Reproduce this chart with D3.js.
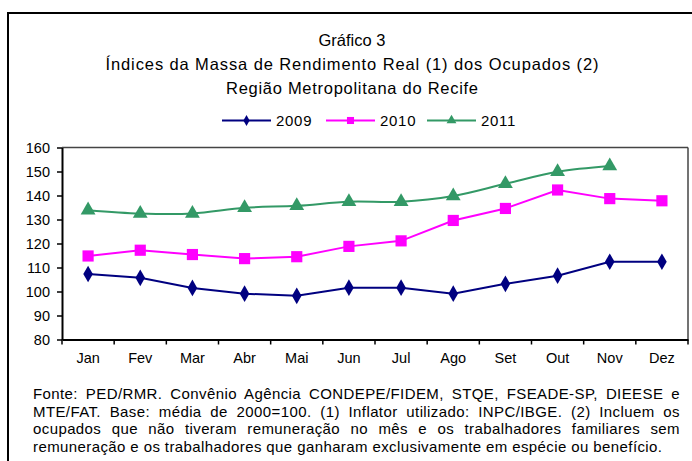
<!DOCTYPE html>
<html><head><meta charset="utf-8">
<script src="https://cdn.jsdelivr.net/npm/d3@7"></script>
<style>
html,body{margin:0;padding:0;background:#fff;}
#wrap{position:relative;width:692px;height:461px;overflow:hidden;font-family:"Liberation Sans",Arial,sans-serif;}
svg{position:absolute;left:0;top:0;}
.fl{position:absolute;left:33px;width:647px;font-size:15px;letter-spacing:0.4px;white-space:nowrap;color:#000;line-height:17px;}
.just{text-align:justify;text-align-last:justify;white-space:normal;}
</style></head>
<body><div id="wrap"></div>
<script>
const months = ["Jan","Fev","Mar","Abr","Mai","Jun","Jul","Ago","Set","Out","Nov","Dez"];
const s2009 = [107.3,105.7,101.5,99.1,98.2,101.6,101.6,99.1,103.2,106.6,112.4,112.4];
const s2010 = [114.8,117.2,115.4,113.7,114.5,118.8,121.1,129.6,134.6,142.3,138.7,137.8];
const s2011 = [133.9,132.5,132.5,134.9,135.7,137.4,137.4,139.8,144.9,149.9,152.3,null];
const yTicks = [80,90,100,110,120,130,140,150,160];
const seriesNames = ["2009","2010","2011"];
const titleLines = ["Gráfico 3","Índices da Massa de Rendimento Real (1) dos Ocupados (2)","Região Metropolitana do Recife"];
const footerLines = [
 "Fonte: PED/RMR. Convênio Agência CONDEPE/FIDEM, STQE, FSEADE-SP, DIEESE e",
 "MTE/FAT. Base: média de 2000=100. (1) Inflator utilizado: INPC/IBGE. (2) Incluem os",
 "ocupados que não tiveram remuneração no mês e os trabalhadores familiares sem",
 "remuneração e os trabalhadores que ganharam exclusivamente em espécie ou benefício."
];

const W=692,H=461;
const wrap=d3.select("#wrap");
const svg=wrap.append("svg").attr("width",W).attr("height",H);
const font='"Liberation Sans",Arial,sans-serif';

// outer frame
svg.append("rect").attr("x",8).attr("y",13).attr("width",700).attr("height",470)
  .attr("fill","none").attr("stroke","#000").attr("stroke-width",2);

// titles
const tY=[46,70,94];
const tLen=[null,493,252];
titleLines.forEach((t,i)=>{
  const tx=svg.append("text").attr("x",352).attr("y",tY[i]).attr("text-anchor","middle")
   .attr("font-family",font).attr("font-size",16.5).text(t);
  if(tLen[i]) tx.attr("textLength",tLen[i]).attr("lengthAdjust","spacing");
});

const L=62,R=688,T=147.5,B=339.5;
const x=d3.scaleBand().domain(months).range([L,R]);
const y=d3.scaleLinear().domain([80,160]).range([B,T]);

// plot frame top/right
svg.append("line").attr("x1",L).attr("x2",R).attr("y1",T).attr("y2",T).attr("stroke","#444").attr("stroke-width",1.5);
svg.append("line").attr("x1",R).attr("x2",R).attr("y1",T).attr("y2",B).attr("stroke","#444").attr("stroke-width",1.5);

// y axis
const ya=svg.append("g").attr("transform",`translate(${L},0)`)
  .call(d3.axisLeft(y).tickValues(yTicks).tickSize(5).tickSizeOuter(0).tickPadding(7));
ya.select(".domain").attr("stroke","#000").attr("stroke-width",2);
ya.selectAll(".tick line").attr("stroke","#000").attr("stroke-width",1.5);
ya.selectAll("text").attr("font-family",font).attr("font-size",14.5).attr("fill","#000");

// x axis
const xa=svg.append("g").attr("transform",`translate(0,${B})`)
  .call(d3.axisBottom(x).tickSize(0).tickPadding(13));
xa.select(".domain").attr("stroke","#000").attr("stroke-width",2);
xa.selectAll("text").attr("font-family",font).attr("font-size",14.5).attr("fill","#000");
const bounds=months.map(m=>x(m)).concat([R]);
xa.selectAll(".bt").data(bounds).enter().append("line").attr("class","bt")
  .attr("x1",d=>d).attr("x2",d=>d).attr("y1",0).attr("y2",5).attr("stroke","#000").attr("stroke-width",1.5);

const cx=m=>x(m)+x.bandwidth()/2;
const series=[
 {name:seriesNames[0],vals:s2009,color:"#000080",sym:d3.symbolDiamond,size:80,lsize:34,curve:d3.curveLinear},
 {name:seriesNames[1],vals:s2010,color:"#FF00FF",sym:d3.symbolSquare,size:125,lsize:50,curve:d3.curveLinear},
 {name:seriesNames[2],vals:s2011,color:"#339966",sym:d3.symbolTriangle,size:95,lsize:42,curve:d3.curveCatmullRom.alpha(0.5)}
];
series.forEach(s=>{
  const pts=months.map((m,i)=>({m,v:s.vals[i]})).filter(d=>d.v!=null);
  svg.append("path").datum(pts).attr("fill","none").attr("stroke",s.color).attr("stroke-width",2)
    .attr("d",d3.line().x(d=>cx(d.m)).y(d=>y(d.v)).curve(s.curve));
  svg.selectAll(null).data(pts).enter().append("path")
    .attr("transform",d=>`translate(${cx(d.m)},${y(d.v)})`)
    .attr("d",d3.symbol().type(s.sym).size(s.size)).attr("fill",s.color);
});

// legend
const legX=[222,326,427];
series.forEach((s,i)=>{
  const g=svg.append("g").attr("transform",`translate(${legX[i]},120.5)`);
  g.append("line").attr("x1",0).attr("x2",49).attr("stroke",s.color).attr("stroke-width",2);
  g.append("path").attr("transform","translate(24.5,0)").attr("d",d3.symbol().type(s.sym).size(s.lsize)).attr("fill",s.color);
  g.append("text").attr("x",54).attr("y",5.5).attr("font-family",font).attr("font-size",15).attr("letter-spacing",0.7).text(s.name);
});

// footer
const fTop=[385,402.5,420,437.5];
footerLines.forEach((t,i)=>{
  wrap.append("div").attr("class","fl"+(i<3?" just":"")).style("top",fTop[i]+"px").text(t);
});
</script></body></html>
